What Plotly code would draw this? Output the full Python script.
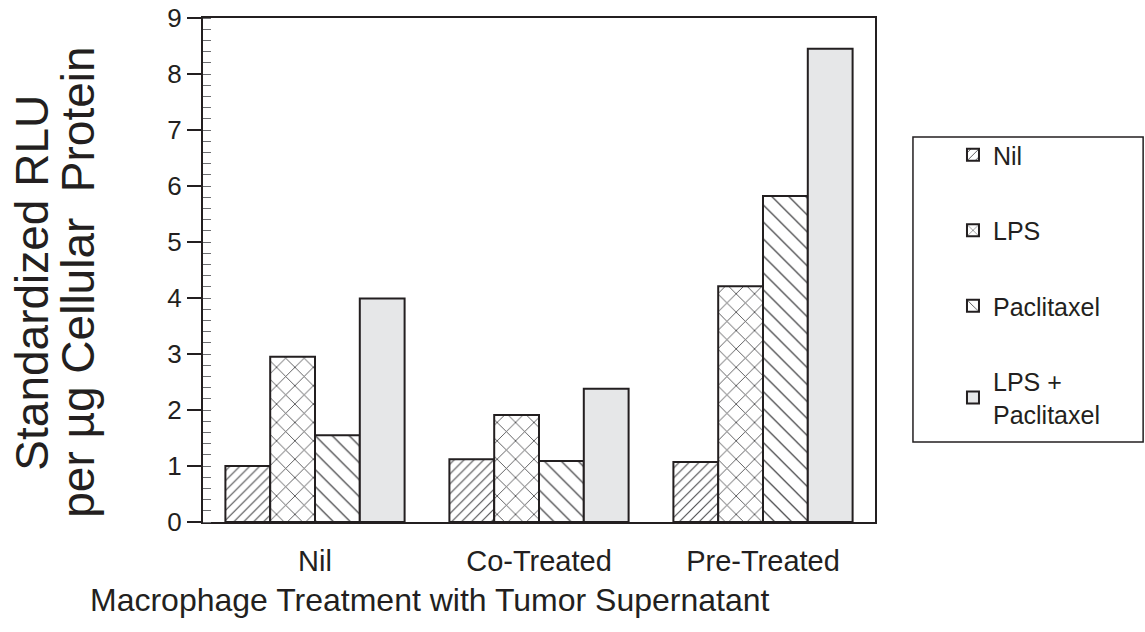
import plotly.graph_objects as go

categories = ["Nil", "Co-Treated", "Pre-Treated"]
series_names = ["Nil", "LPS", "Paclitaxel", "LPS +<br>Paclitaxel"]
nil_vals = [1.0, 1.12, 1.07]
lps_vals = [2.95, 1.91, 4.21]
pac_vals = [1.55, 1.09, 5.82]
lps_pac_vals = [3.99, 2.38, 8.45]
y_ticks = list(range(0, 10))

FONT = "Liberation Sans, Arial, Helvetica, sans-serif"
INK = "#231f20"
HATCH = "#4d4d4f"

styles = [
    dict(color="white", pattern=dict(shape="/", size=7, solidity=0.16, fgcolor=HATCH, bgcolor="white", fillmode="replace")),
    dict(color="white", pattern=dict(shape="x", size=13, solidity=0.13, fgcolor=HATCH, bgcolor="white", fillmode="replace")),
    dict(color="white", pattern=dict(shape="\\", size=12, solidity=0.11, fgcolor=HATCH, bgcolor="white", fillmode="replace")),
    dict(color="#e6e7e8"),
]

fig = go.Figure()
for name, vals, st in zip(series_names, [nil_vals, lps_vals, pac_vals, lps_pac_vals], styles):
    fig.add_trace(go.Bar(
        x=categories, y=vals, name=name, legendgroup=name,
        marker=dict(line=dict(color=INK, width=2), **st),
    ))

fig.update_layout(
    template="none",
    width=1145, height=632,
    margin=dict(l=203, r=270, t=18, b=110, autoexpand=False),
    paper_bgcolor="white", plot_bgcolor="white",
    font=dict(family=FONT, color=INK),
    barmode="group", bargap=0.2, bargroupgap=0,
    showlegend=True,
    legend=dict(
        xref="container", yref="container",
        x=0.8323, y=0.791, xanchor="left", yanchor="top",
        font=dict(size=25, family=FONT, color=INK),
        tracegroupgap=40, traceorder="grouped",
        bgcolor="rgba(0,0,0,0)", borderwidth=0,
    ),
    xaxis=dict(
        automargin=False,
        showline=True, linecolor=INK, linewidth=2, mirror=True,
        ticks="", showgrid=False, zeroline=False,
        tickfont=dict(size=29, family=FONT, color=INK),
        ticklabelstandoff=12,
    ),
    yaxis=dict(
        automargin=False,
        range=[0, 9], tickvals=y_ticks, ticks="outside", ticklen=14, tickwidth=1.5,
        tickcolor=INK, showline=True, linecolor=INK, linewidth=2, mirror=True,
        showgrid=False, zeroline=False, ticklabeloverflow="allow",
        tickfont=dict(size=26, family=FONT, color=INK),
        minor=dict(ticks="inside", dtick=0.2, ticklen=8, tickwidth=1.2, tickcolor="#6d6e71"),
    ),
    yaxis2=dict(
        automargin=False,
        overlaying="y", side="left", range=[0, 9], tickvals=y_ticks,
        ticks="inside", ticklen=14, tickwidth=1.5, tickcolor=INK,
        showticklabels=False, showgrid=False, zeroline=False, showline=False,
    ),
    shapes=[dict(
        type="rect", xref="paper", yref="paper",
        x0=1.0565, x1=1.399, y0=0.1587, y1=0.7639,
        line=dict(color=INK, width=1.5), fillcolor="rgba(0,0,0,0)",
    )],
    annotations=[
        dict(text="Macrophage Treatment with Tumor Supernatant", xref="paper", yref="paper",
             x=0.338, y=-0.155, xanchor="center", yanchor="middle", showarrow=False,
             font=dict(size=32, family=FONT, color=INK)),
        dict(text="Standardized RLU", xref="paper", yref="paper",
             x=-0.2544, y=0.475, xanchor="center", yanchor="middle", showarrow=False,
             textangle=-90, borderpad=0, font=dict(size=46, family=FONT, color=INK)),
        dict(text="per \u00b5g Cellular  Protein", xref="paper", yref="paper",
             x=-0.1865, y=0.476, xanchor="center", yanchor="middle", showarrow=False,
             textangle=-90, borderpad=0, font=dict(size=46, family=FONT, color=INK)),
    ],
)

fig.write_html(
    "out.html",
    config={"displayModeBar": False},
    post_script="document.body.style.margin='0';document.body.style.padding='0';",
)
